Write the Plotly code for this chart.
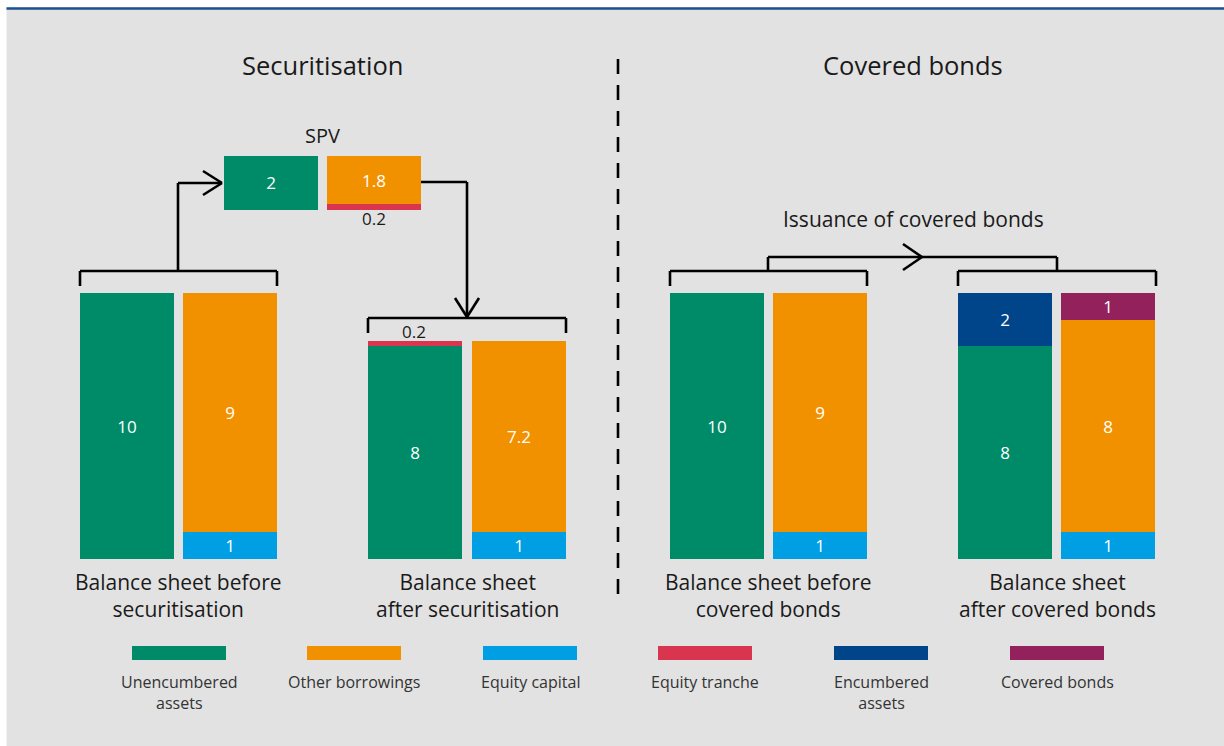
import numpy as np
import plotly.graph_objects as go

# ---------------- data ----------------
columns = ["Before sec. assets", "Before sec. liabilities",
           "After sec. assets", "After sec. liabilities",
           "SPV assets", "SPV liabilities",
           "Before CB assets", "Before CB liabilities",
           "After CB assets", "After CB liabilities"]
# stacking order bottom -> top
equity_capital   = [0, 1, 0, 1,   0,   0,   0, 1, 0, 1]
equity_tranche_b = [0, 0, 0, 0,   0,   0.2, 0, 0, 0, 0]   # equity tranche at bottom (SPV)
unencumbered     = [10, 0, 8, 0,  2,   0,   10, 0, 8, 0]
other_borrowings = [0, 9, 0, 7.2, 0,   1.8, 0, 9, 0, 8]
equity_tranche_t = [0, 0, 0.2, 0, 0,   0,   0, 0, 0, 0]   # retained equity tranche on top
encumbered       = [0, 0, 0, 0,   0,   0,   0, 0, 2, 0]
covered_bonds    = [0, 0, 0, 0,   0,   0,   0, 0, 0, 1]

legend_labels = ["Unencumbered<br>assets", "Other borrowings", "Equity capital",
                 "Equity tranche", "Encumbered<br>assets", "Covered bonds"]

# ---------------- style ----------------
GREEN, ORANGE, BLUE = "#008b68", "#f29100", "#009fe3"
RED, NAVY, PURPLE = "#d9354e", "#004489", "#93225c"
BG = "#e2e2e2"
FONT = "Open Sans"
TXT = "#1a1a1a"

# layout positions (pixel x-centres) and vertical offsets
x_pos = np.array([127, 230, 415, 519, 271, 374, 717, 820, 1005, 1108])
BAR_W = 94
PX_PER_UNIT = 26.6
BASE_PX = 559
spv_offset = (BASE_PX - 209.5) / PX_PER_UNIT
offsets = np.array([0, 0, 0, 0, spv_offset, spv_offset, 0, 0, 0, 0])


def py(p):
    """pixel row -> data y"""
    return (BASE_PX - p) / PX_PER_UNIT


series = [
    ("Equity capital", equity_capital, BLUE, True),
    ("Equity tranche", equity_tranche_b, RED, False),
    ("Unencumbered assets", unencumbered, GREEN, True),
    ("Other borrowings", other_borrowings, ORANGE, True),
    ("Equity tranche", equity_tranche_t, RED, False),
    ("Encumbered assets", encumbered, NAVY, True),
    ("Covered bonds", covered_bonds, PURPLE, True),
]

fig = go.Figure()
cum = offsets.astype(float).copy()
for name, vals, color, show_text in series:
    v = np.array(vals, dtype=float)
    mask = v > 0
    fig.add_trace(go.Bar(
        x=x_pos[mask], y=v[mask], base=cum[mask], width=BAR_W,
        marker=dict(color=color, line=dict(width=0)),
        text=[f"{t:g}" for t in v[mask]] if show_text else None,
        textposition="inside", insidetextanchor="middle",
        textangle=0, constraintext="none",
        textfont=dict(color="white", size=17, family=FONT),
        name=name, showlegend=False, hoverinfo="skip",
    ))
    cum = cum + v

shapes = []
shapes.append(dict(type="rect", x0=0, x1=1224, y0=py(0), y1=py(7.5), fillcolor="white", line_width=0, layer="below"))
shapes.append(dict(type="rect", x0=0, x1=6.5, y0=py(0), y1=py(746), fillcolor="white", line_width=0, layer="below"))
shapes.append(dict(type="line", x0=6.5, x1=1224, y0=py(8.5), y1=py(8.5), line=dict(color="#1d4f91", width=2.5)))

LINE = dict(color="black", width=2.6)


def seg(pts, dash=None):
    for (xa, ya), (xb, yb) in zip(pts[:-1], pts[1:]):
        ln = dict(LINE)
        if dash:
            ln["dash"] = dash
        shapes.append(dict(type="line", x0=xa, x1=xb, y0=py(ya), y1=py(yb), line=ln))


# dashed divider
seg([(618, 59), (618, 596)], dash="15px,11px")


def bracket(x0, x1, y, tick=15):
    seg([(x0, y + tick), (x0, y), (x1, y), (x1, y + tick)])


bracket(80, 277, 271)
bracket(368, 566, 318)
bracket(670, 867, 271)
bracket(958, 1156, 271)

# securitisation arrows
seg([(178, 271), (178, 183), (222, 183)])
seg([(203, 171), (222, 183), (203, 195)])
seg([(421, 182), (467, 182), (467, 317)])
seg([(455, 298), (467, 317), (479, 298)])

# covered bonds arrow
seg([(768, 271), (768, 257), (1057, 257), (1057, 271)])
seg([(903, 244), (922, 257), (903, 270)])

# legend swatches
legend_colors = [GREEN, ORANGE, BLUE, RED, NAVY, PURPLE]
leg_x0 = [132, 307, 483, 658, 834, 1010]
for c, x0 in zip(legend_colors, leg_x0):
    shapes.append(dict(type="rect", x0=x0, x1=x0 + 94, y0=py(646), y1=py(660),
                       fillcolor=c, line_width=0))

annotations = []


def txt(x, y, s, size, color=TXT, yanchor="middle"):
    annotations.append(dict(x=x, y=py(y), text=s, showarrow=False,
                            font=dict(family=FONT, size=size, color=color),
                            xanchor="center", yanchor=yanchor, align="center"))


txt(322, 65, "Securitisation", 25.5)
txt(913, 65, "Covered bonds", 25.5)
txt(322, 135, "SPV", 20)
txt(374, 218, f"{equity_tranche_b[5]:g}", 17)
txt(414, 331, f"{equity_tranche_t[2]:g}", 17)
txt(913, 219, "Issuance of covered bonds", 21)

bottom_labels = ["Balance sheet before<br>securitisation", "Balance sheet<br>after securitisation",
                 "Balance sheet before<br>covered bonds", "Balance sheet<br>after covered bonds"]
for xc, lab in zip([178, 467, 768, 1057], bottom_labels):
    annotations.append(dict(x=xc, y=py(566), text=lab, showarrow=False,
                            font=dict(family=FONT, size=21, color=TXT),
                            xanchor="center", yanchor="top", align="center"))

for x0, lab in zip(leg_x0, legend_labels):
    annotations.append(dict(x=x0 + 47, y=py(669), text=lab, showarrow=False,
                            font=dict(family=FONT, size=16, color="#333333"),
                            xanchor="center", yanchor="top", align="center"))

fig.update_layout(
    width=1224, height=746,
    margin=dict(l=0, r=0, t=0, b=0),
    paper_bgcolor=BG, plot_bgcolor=BG,
    barmode="overlay", bargap=0,
    xaxis=dict(range=[0, 1224], visible=False, fixedrange=True),
    yaxis=dict(range=[py(746), py(0)], visible=False, fixedrange=True),
    shapes=shapes, annotations=annotations,
    showlegend=False,
)

fig.write_html("out.html",
               config={"displayModeBar": False, "staticPlot": True},
               post_script="document.body.style.margin='0px';document.body.style.overflow='hidden';")
